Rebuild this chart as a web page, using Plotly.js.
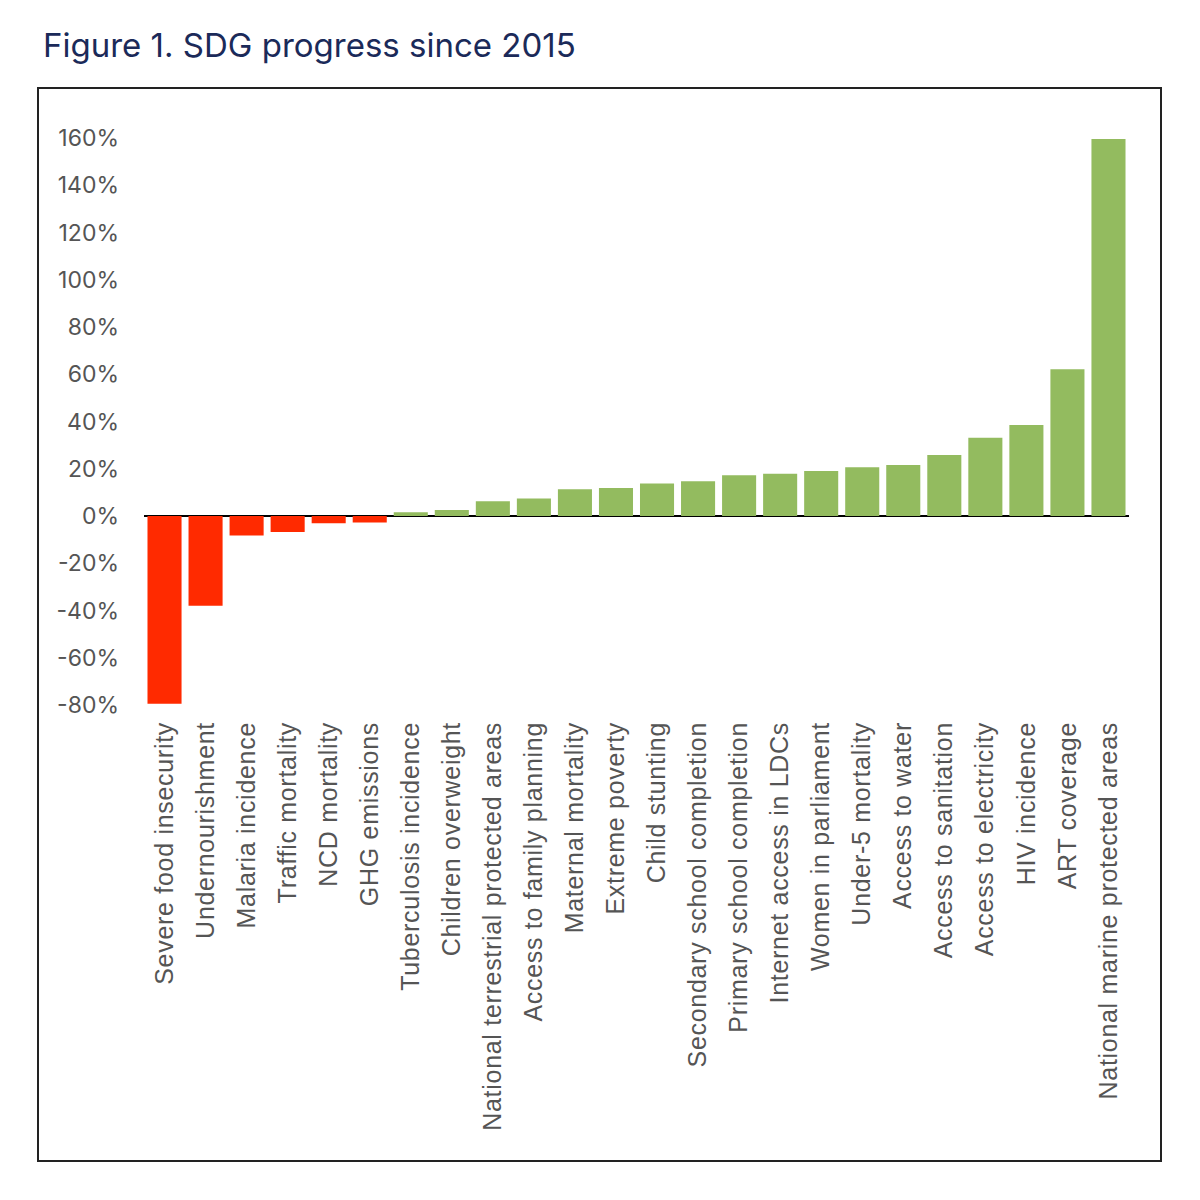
<!DOCTYPE html>
<html>
<head>
<meta charset="utf-8">
<script src="https://cdn.plot.ly/plotly-3.0.1.min.js"></script>
<style>
html,body{margin:0;padding:0;background:#fff;}
#chart{width:1200px;height:1200px;}
#chart .xtick text{letter-spacing:0.7px;}
</style>
</head>
<body>
<div id="chart"></div>
<script>
const categories = [
  "Severe food insecurity", "Undernourishment", "Malaria incidence", "Traffic mortality",
  "NCD mortality", "GHG emissions", "Tuberculosis incidence", "Children overweight",
  "National terrestrial protected areas", "Access to family planning", "Maternal mortality",
  "Extreme poverty", "Child stunting", "Secondary school completion", "Primary school completion",
  "Internet access in LDCs", "Women in parliament", "Under-5 mortality", "Access to water",
  "Access to sanitation", "Access to electricity", "HIV incidence", "ART coverage",
  "National marine protected areas"
];
const progress = [
  -79.5, -38, -8.3, -6.8, -3.1, -2.7, 1.6, 2.5, 6.2, 7.4, 11.3, 11.9, 13.8, 14.7, 17.2,
  17.9, 19, 20.6, 21.6, 25.8, 33.1, 38.5, 62.1, 159.6
];
const yTickVals = [-80, -60, -40, -20, 0, 20, 40, 60, 80, 100, 120, 140, 160];
const yTickText = ["-80%", "-60%", "-40%", "-20%", "0%", "20%", "40%", "60%", "80%", "100%", "120%", "140%", "160%"];

const RED = "#ff2a00", GREEN = "#93bb5f";
const colors = progress.map(v => v < 0 ? RED : GREEN);

// plot area in pixels
const L = 144, R = 1129, T = 138, B = 705;
const px = x => (x - L) / (R - L);
const py = y => (B - y) / (B - T);

const trace = {
  type: "bar",
  x: categories,
  y: progress,
  marker: {color: colors, line: {width: 0}},
  hoverinfo: "x+y"
};

const layout = {
  width: 1200, height: 1200,
  paper_bgcolor: "#ffffff", plot_bgcolor: "#ffffff",
  margin: {l: L, r: 1200 - R, t: T, b: 1200 - B, pad: 0},
  bargap: 0.17,
  showlegend: false,
  title: {
    text: "Figure 1. SDG progress since 2015",
    font: {family: "Inter, 'Open Sans', sans-serif", size: 33, color: "#1b2a59"},
    xref: "container", yref: "container",
    x: 43 / 1200, xanchor: "left",
    y: 1 - 45 / 1200, yanchor: "middle"
  },
  xaxis: {
    type: "category",
    range: [-0.5, categories.length - 0.5],
    tickangle: -90,
    ticks: "",
    showline: false, showgrid: false, zeroline: false,
    tickfont: {family: "'Liberation Sans', Arial, sans-serif", size: 25, color: "#555555"},
    ticklabelstandoff: 11,
    automargin: false
  },
  yaxis: {
    range: [-80, 160],
    tickvals: yTickVals,
    ticktext: yTickText,
    ticks: "",
    showline: false, showgrid: false,
    zeroline: true, zerolinecolor: "#000000", zerolinewidth: 2,
    tickfont: {family: "Inter, 'Open Sans', sans-serif", size: 23, color: "#555555"},
    ticklabelstandoff: 24,
    automargin: false
  },
  shapes: [{
    type: "rect", xref: "paper", yref: "paper",
    x0: px(38), x1: px(1161), y0: py(1161), y1: py(88),
    line: {color: "#222222", width: 2}, fillcolor: "rgba(0,0,0,0)", layer: "below"
  }]
};

Plotly.newPlot("chart", [trace], layout, {displayModeBar: false, staticPlot: true});
</script>
</body>
</html>
